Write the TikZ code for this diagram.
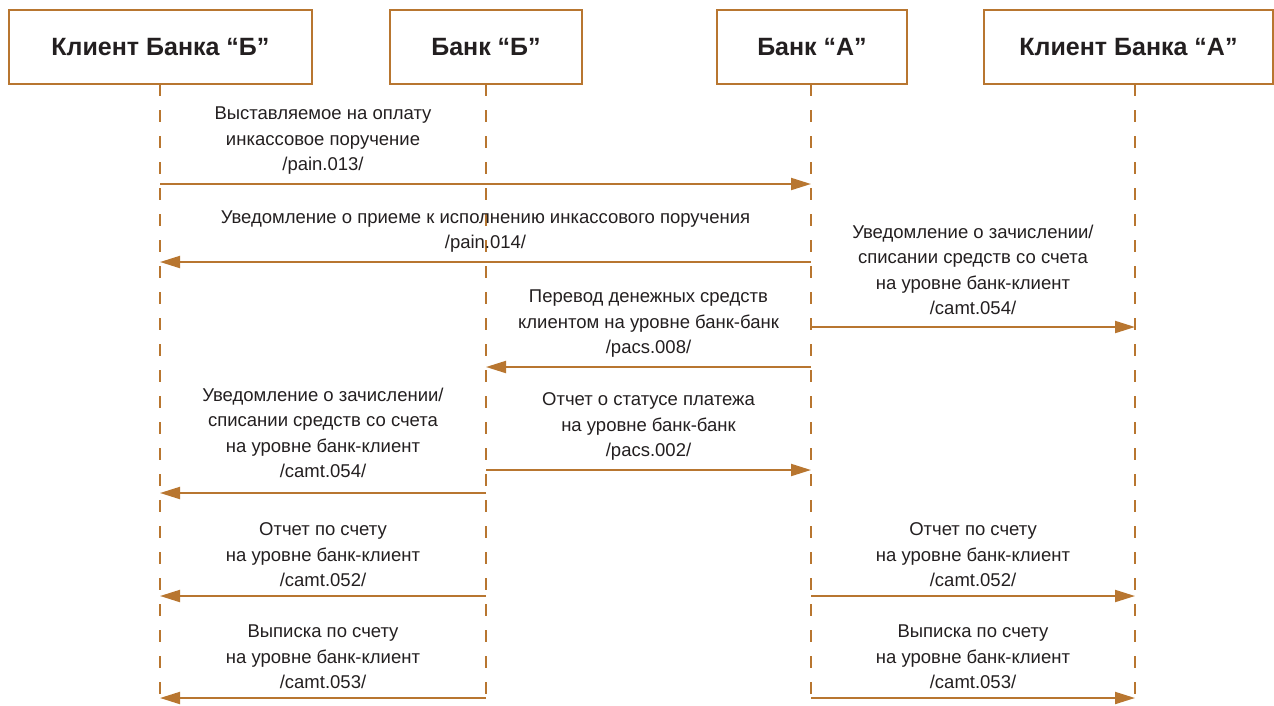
\documentclass[tikz,border=0pt]{standalone}
\usepackage{fontspec}
\setmainfont{Liberation Sans}
\usetikzlibrary{arrows.meta,calc}
\definecolor{brn}{RGB}{184,118,48}
\definecolor{txt}{RGB}{35,31,32}
\tikzset{
  hdr/.style={draw=brn,line width=1.5pt,fill=white,minimum height=74pt,inner sep=0pt,text=txt,
    font=\bfseries\fontsize{25}{29}\selectfont},
  life/.style={draw=brn,line width=2pt,dash pattern=on 12pt off 14pt},
  msg/.style={draw=brn,line width=2pt,-{Triangle[length=20pt,width=12pt]}},
  lbl/.style={anchor=south,inner sep=0pt,align=center,text=txt,yshift=9pt,
    font=\fontsize{18.5}{25.5}\selectfont},
}
\begin{document}
\begin{tikzpicture}[x=1pt,y=-1pt]
\useasboundingbox (0,0) rectangle (1274,705);
% participants
\node[hdr,minimum width=303pt] (KB) at (160.5,47) {Клиент Банка “Б”};
\node[hdr,minimum width=192pt] (BB) at (486,47) {Банк “Б”};
\node[hdr,minimum width=190pt] (BA) at (812,47) {Банк “А”};
\node[hdr,minimum width=289pt] (KA) at (1128.5,47) {Клиент Банка “А”};
% lifelines
\coordinate (lKB) at (160,84);
\coordinate (lBB) at (486,84);
\coordinate (lBA) at (811,84);
\coordinate (lKA) at (1135,84);
\coordinate (bot) at (0,705);
\foreach \l in {lKB,lBB,lBA,lKA}
  \draw[life] (\l) -- (\l |- bot);
% message rows
\coordinate (r1) at (0,184);
\coordinate (r2) at (0,262);
\coordinate (r3) at (0,327);
\coordinate (r4) at (0,367);
\coordinate (r5) at (0,470);
\coordinate (r6) at (0,493);
\coordinate (r7) at (0,596);
\coordinate (r8) at (0,698);
% messages
\draw[msg] (lKB |- r1) -- (lBA |- r1);
\node[lbl] (t1) at ($(lKB |- r1)!0.5!(lBB |- r1)$) {Выставляемое на оплату\\инкассовое поручение\\/pain.013/};
\draw[msg] (lBA |- r2) -- (lKB |- r2);
\node[lbl] (t2) at ($(lKB |- r2)!0.5!(lBA |- r2)$) {Уведомление о приеме к исполнению инкассового поручения\\/pain.014/};
\draw[msg] (lBA |- r3) -- (lKA |- r3);
\node[lbl,yshift=3pt] (t3) at ($(lBA |- r3)!0.5!(lKA |- r3)$) {Уведомление о зачислении/\\списании средств со счета\\на уровне банк-клиент\\/camt.054/};
\draw[msg] (lBA |- r4) -- (lBB |- r4);
\node[lbl] (t4) at ($(lBB |- r4)!0.5!(lBA |- r4)$) {Перевод денежных средств\\клиентом на уровне банк-банк\\/pacs.008/};
\draw[msg] (lBB |- r5) -- (lBA |- r5);
\node[lbl] (t5) at ($(lBB |- r5)!0.5!(lBA |- r5)$) {Отчет о статусе платежа\\на уровне банк-банк\\/pacs.002/};
\draw[msg] (lBB |- r6) -- (lKB |- r6);
\node[lbl,yshift=6pt] (t6) at ($(lKB |- r6)!0.5!(lBB |- r6)$) {Уведомление о зачислении/\\списании средств со счета\\на уровне банк-клиент\\/camt.054/};
\draw[msg] (lBB |- r7) -- (lKB |- r7);
\node[lbl] (t7) at ($(lKB |- r7)!0.5!(lBB |- r7)$) {Отчет по счету\\на уровне банк-клиент\\/camt.052/};
\draw[msg] (lBA |- r7) -- (lKA |- r7);
\node[lbl] (t8) at ($(lBA |- r7)!0.5!(lKA |- r7)$) {Отчет по счету\\на уровне банк-клиент\\/camt.052/};
\draw[msg] (lBB |- r8) -- (lKB |- r8);
\node[lbl] (t9) at ($(lKB |- r8)!0.5!(lBB |- r8)$) {Выписка по счету\\на уровне банк-клиент\\/camt.053/};
\draw[msg] (lBA |- r8) -- (lKA |- r8);
\node[lbl] (t10) at ($(lBA |- r8)!0.5!(lKA |- r8)$) {Выписка по счету\\на уровне банк-клиент\\/camt.053/};
\end{tikzpicture}
\end{document}
